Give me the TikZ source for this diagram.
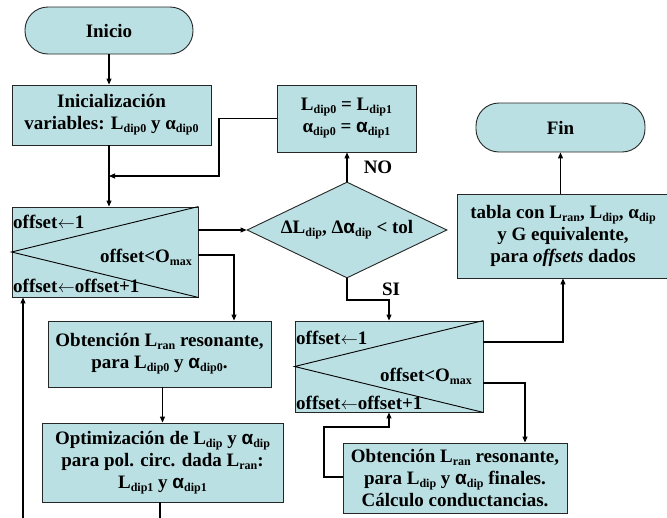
\documentclass[tikz,border=0pt]{standalone}
\usepackage{fontspec}
\setmainfont{Liberation Serif}
\newfontfamily\sansf{Liberation Sans}
\usetikzlibrary{arrows.meta,shapes.geometric}
\definecolor{boxfill}{RGB}{187,224,227}
\newcommand\sbs[1]{\raisebox{-0.35ex}{\fontsize{12}{12}\selectfont #1}}
\newcommand\sal{{\sansf\bfseries α}}
\newcommand\larr{\raisebox{0.05ex}{$\leftarrow$}}
\begin{document}
\begin{tikzpicture}[x=1pt,y=-1pt,
  every node/.style={font=\fontsize{19}{22}\selectfont\bfseries},
  box/.style={draw=black!85,fill=boxfill,line width=0.9pt,align=center,inner sep=0pt},
  term/.style={box,rounded corners=23pt},
  arr/.style={line width=1.1pt,-{Triangle[length=6pt,width=5pt]}},
  ln/.style={line width=1.1pt},
  lbl/.style={inner sep=0pt}]
\useasboundingbox (0,0) rectangle (667,517);

% nodes
\node[term,minimum width=168pt,minimum height=47pt] (inicio) at (109,30.5) {Inicio};
\node[box,minimum width=199pt,minimum height=60pt] (init) at (111.5,115)
  {Inicialización\\variables: L\sbs{dip0} y α\sbs{dip0}};
\node[box,minimum width=186pt,minimum height=90pt] (loop1) at (105,252) {};
\node[box,minimum width=139pt,minimum height=67pt] (ldip) at (346.5,118.5)
  {L\sbs{dip0} = L\sbs{dip1}\\α\sbs{dip0} = \sal\sbs{dip1}};
\node[box,shape=diamond,aspect=2.08,minimum width=200pt,minimum height=96pt] (dia) at (347,230)
  {ΔL\sbs{dip}, Δ\sal\sbs{dip} < tol};
\node[term,minimum width=169pt,minimum height=49pt] (fin) at (560.5,127.5) {Fin};
\node[box,minimum width=212pt,minimum height=84pt] (tabla) at (563,236)
  {tabla con L\sbs{ran}, L\sbs{dip}, α\sbs{dip}\\y G equivalente,\\para \textit{offsets} dados};
\node[box,minimum width=223pt,minimum height=66pt] (obt1) at (159.5,354)
  {Obtención L\sbs{ran} resonante,\\para L\sbs{dip0} y \sal\sbs{dip0}.};
\node[box,minimum width=241pt,minimum height=79pt] (opt) at (162.5,462.5)
  {Optimización de L\sbs{dip} y \sal\sbs{dip}\\para pol. circ. dada L\sbs{ran}:\\L\sbs{dip1} y \sal\sbs{dip1}};
\node[box,minimum width=188pt,minimum height=91pt] (loop2) at (389,366.5) {};
\node[box,minimum width=224pt,minimum height=70pt] (obt2) at (455,478)
  {Obtención L\sbs{ran} resonante,\\para L\sbs{dip} y \sal\sbs{dip} finales.\\Cálculo conductancias.};

% loop box diagonals
\draw[line width=0.9pt] (loop1.north east) -- (loop1.west) -- (loop1.south east);
\draw[line width=0.9pt] (loop2.north east) -- (loop2.west) -- (loop2.south east);

% loop texts
\node[lbl,anchor=west] (l1a) at (13,222) {offset\larr1};
\node[lbl] (l1b) at (146,257) {offset<O\sbs{max}};
\node[lbl,anchor=west] (l1c) at (13,286) {offset\larr offset+1};
\node[lbl,anchor=west] (l2a) at (296,338) {offset\larr1};
\node[lbl] (l2b) at (426,376) {offset<O\sbs{max}};
\node[lbl,anchor=west] (l2c) at (296,403) {offset\larr offset+1};

% labels
\node[lbl] (no) at (378,167) {NO};
\node[lbl] (si) at (391,289) {SI};

% coordinates
\coordinate (jc) at (219,176);
\coordinate (j) at (109,176);
\coordinate (c1) at (234,255);
\coordinate (e1) at (160,520);
\coordinate (e2) at (23,520);
\coordinate (s1) at (347,300);
\coordinate (s2) at (389,300);
\coordinate (t1) at (563,342);
\coordinate (o1) at (525,383);
\coordinate (b1) at (324,477);
\coordinate (b2) at (324,427);
\coordinate (b3) at (389,427);

% connectors
\draw[arr] (inicio.south) -- (inicio.south |- init.north);
\draw[arr] (init.south -| inicio.south) -- (inicio.south |- loop1.north);
\draw[arr] (ldip.west) -| (jc) -- (j);
\draw[arr] (loop1.east |- dia.west) -- (dia.west);
\draw[arr] (loop1.east |- c1) -- (c1) -- (c1 |- obt1.north);
\draw[arr] (opt.north |- obt1.south) -- (opt.north);
\draw[ln] (opt.south -| e1) -- (e1);
\draw[arr] (e2) -- (e2 |- loop1.south);
\draw[arr] (dia.north) -- (dia.north |- ldip.south);
\draw[arr] (dia.south) -- (s1) -- (s2) -- (s2 |- loop2.north);
\draw[arr] (loop2.east |- t1) -- (t1) -- (t1 |- tabla.south);
\draw[arr] (loop2.east |- o1) -- (o1) -- (o1 |- obt2.north);
\draw[arr] (obt2.west |- b1) -- (b1) -- (b2) -- (b3) -- (b3 |- loop2.south);
\draw[arr] (fin.south |- tabla.north) -- (fin.south);
\end{tikzpicture}
\end{document}
